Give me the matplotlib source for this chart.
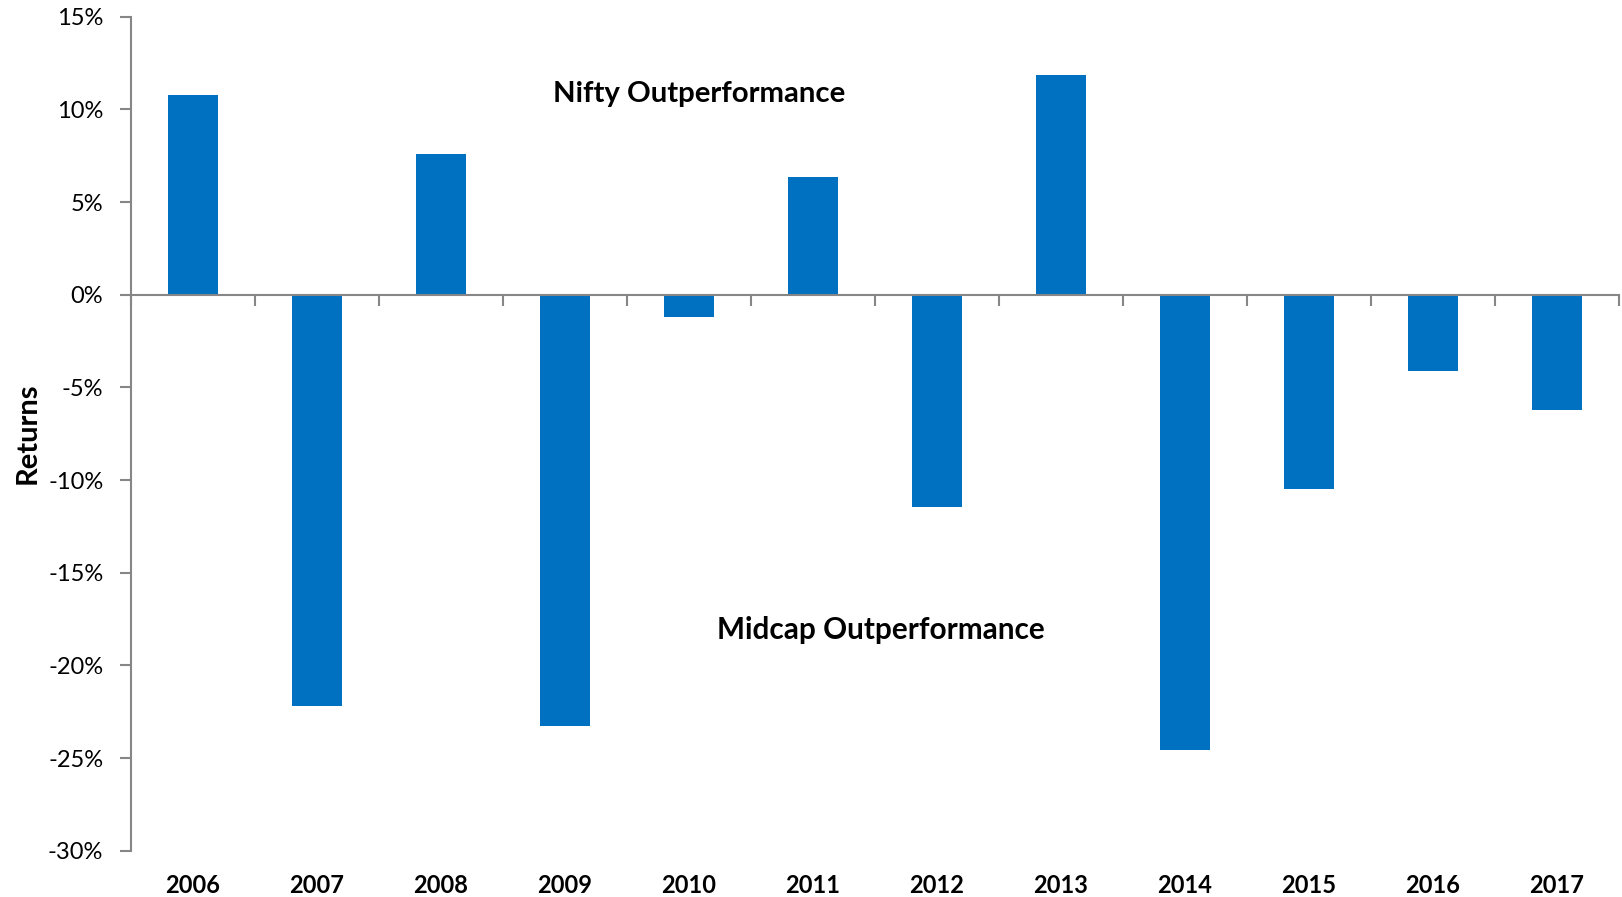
import numpy as np
import matplotlib.pyplot as plt
from matplotlib.ticker import FuncFormatter

years = ['2006', '2007', '2008', '2009', '2010', '2011',
         '2012', '2013', '2014', '2015', '2016', '2017']
returns = [10.8, -22.2, 7.6, -23.25, -1.2, 6.35,
           -11.45, 11.85, -24.55, -10.5, -4.1, -6.2]

plt.rcParams['font.family'] = ['Lato', 'DejaVu Sans']
axis_grey = '#868686'

fig = plt.figure(figsize=(16.22, 8.97), dpi=100)
ax = fig.add_axes([0.0808, 0.0516, 0.9172, 0.9298])

x = np.arange(len(years))
ax.bar(x, returns, width=0.4, color='#0070C0')

ax.set_xlim(-0.5, len(years) - 0.5)
ax.set_ylim(-30, 15)
ax.set_yticks(np.arange(-30, 16, 5))
ax.yaxis.set_major_formatter(FuncFormatter(lambda v, p: f'{v:.0f}%'))

for s in ['top', 'right']:
    ax.spines[s].set_visible(False)
ax.spines['left'].set_color(axis_grey)
ax.spines['left'].set_linewidth(1.5)
ax.spines['bottom'].set_position(('data', 0))
ax.spines['bottom'].set_color(axis_grey)
ax.spines['bottom'].set_linewidth(1.5)

ax.tick_params(axis='y', length=8, width=1.5, color=axis_grey, pad=12,
               labelsize=17, labelcolor='black')
ax.set_xticks(x)
ax.set_xticklabels([])
ax.tick_params(axis='x', which='major', length=0)
ax.set_xticks(np.arange(-0.5, len(years), 1), minor=True)
ax.tick_params(axis='x', which='minor', length=8, width=1.5, color=axis_grey,
               direction='out')

sec = ax.secondary_xaxis('bottom')
sec.set_xticks(x)
sec.set_xticklabels(years, fontsize=17, fontweight='bold')
sec.tick_params(length=0, pad=17)
sec.spines['bottom'].set_visible(False)

ax.set_ylabel('Returns', fontsize=21, fontweight='bold', labelpad=5)

ax.text(0.382, 0.907, 'Nifty Outperformance', transform=ax.transAxes,
        ha='center', va='center', fontsize=21.2, fontweight='bold')
ax.text(0.504, 0.265, 'Midcap Outperformance', transform=ax.transAxes,
        ha='center', va='center', fontsize=21.4, fontweight='bold')

fig.savefig('out.png', dpi=100)
